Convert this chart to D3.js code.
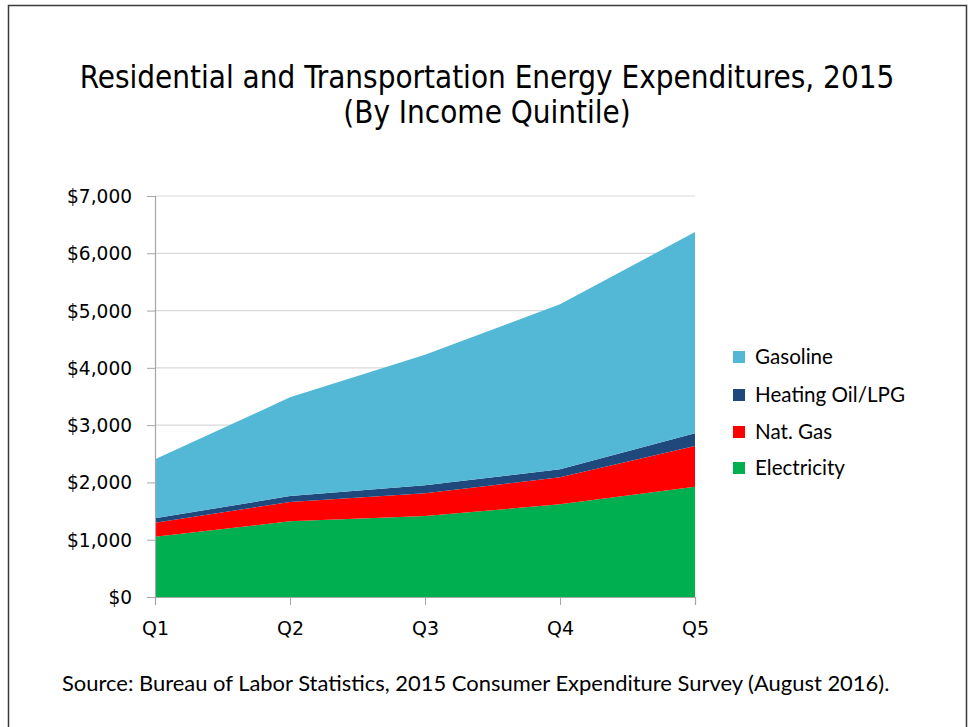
<!DOCTYPE html>
<html><head><meta charset="utf-8">
<script src="https://cdn.jsdelivr.net/npm/d3@7"></script>
<style>body{margin:0;background:#fff}svg{display:block}</style>
</head><body>
<script>
const quintiles = ["Q1","Q2","Q3","Q4","Q5"];
const electricity = [1053, 1321, 1414, 1617, 1926];
const natGas      = [244, 337, 396, 472, 710];
const heatingOil  = [76, 105, 140, 140, 221];
const gasoline    = [1030, 1722, 2279, 2880, 3514];
const seriesNames = ["Electricity","Nat. Gas","Heating Oil/LPG","Gasoline"];
const seriesColors = ["#00B050","#FF0000","#1F497D","#53B8D6"];
const yTicks = [0,1000,2000,3000,4000,5000,6000,7000];
const titleLines = ["Residential and Transportation Energy Expenditures, 2015","(By Income Quintile)"];
const sourceText = "Source: Bureau of Labor Statistics, 2015 Consumer Expenditure Survey (August 2016).";

const W = 969, H = 727;
const svg = d3.select("body").append("svg").attr("width", W).attr("height", H);
svg.append("rect").attr("x",8.5).attr("y",5.5).attr("width",958).attr("height",730)
  .attr("fill","#fff").attr("stroke","#3a3a3a").attr("stroke-width",1.5);

const x = d3.scalePoint().domain(quintiles).range([155, 695]);
const y = d3.scaleLinear().domain([0, 7000]).range([597, 196]);

const table = quintiles.map((q,i)=>({q, "Electricity":electricity[i], "Nat. Gas":natGas[i], "Heating Oil/LPG":heatingOil[i], "Gasoline":gasoline[i]}));
const stack = d3.stack().keys(seriesNames)(table);

// gridlines
svg.append("g").selectAll("line").data(yTicks.slice(1)).join("line")
  .attr("x1",155).attr("x2",695).attr("y1",d=>y(d)).attr("y2",d=>y(d))
  .attr("stroke","#d9d9d9").attr("stroke-width",1.2);

const area = d3.area().x(d=>x(d.data.q)).y0(d=>y(d[0])).y1(d=>y(d[1]));
svg.append("g").selectAll("path").data(stack).join("path")
  .attr("d", area).attr("fill",(d,i)=>seriesColors[i]);

const axisFont = "'DejaVu Sans', sans-serif";
// y axis
const yAxis = svg.append("g").attr("transform","translate(155,0)")
  .call(d3.axisLeft(y).tickValues(yTicks).tickSize(8).tickPadding(15).tickFormat(d=>"$"+d3.format(",")(d)));
yAxis.select(".domain").attr("stroke","#a6a6a6").attr("stroke-width",1.2);
yAxis.selectAll(".tick line").attr("stroke","#a6a6a6");
yAxis.selectAll("text").attr("font-family",axisFont).attr("font-size",18).attr("fill","#000").attr("dy","0.35em");
{
  const top = yAxis.selectAll(".tick text").filter(d=>d===7000).node();
  const w = top.getComputedTextLength();
  yAxis.selectAll("text").attr("font-size", 18*65/w);
}

// x axis
const xAxis = svg.append("g").attr("transform","translate(0,597)")
  .call(d3.axisBottom(x).tickSize(8).tickPadding(0));
xAxis.select(".domain").attr("stroke","#a6a6a6").attr("stroke-width",1.2);
xAxis.selectAll(".tick line").attr("stroke","#a6a6a6");
xAxis.selectAll("text").attr("font-family",axisFont).attr("font-size",18).attr("fill","#000")
  .attr("y",38).attr("dy",null);
{
  const n = xAxis.select(".tick text").node();
  const w = n.getComputedTextLength();
  xAxis.selectAll("text").attr("font-size", 18*27/w);
}

// title
const title = svg.append("g");
titleLines.forEach((t,i)=>{
  title.append("text").attr("x",487).attr("y",88+i*35).attr("text-anchor","middle")
    .attr("font-family","'DejaVu Sans Condensed', 'DejaVu Sans', sans-serif").attr("font-size",27).attr("fill","#000").text(t);
});
const tnode = title.select("text").node();
const tw = tnode.getComputedTextLength();
title.selectAll("text").attr("font-size", 27*815/tw);

// legend
const legOrder = [3,2,1,0];
const legY = [357, 395, 432, 468];
const leg = svg.append("g");
legOrder.forEach((si,k)=>{
  const ly = legY[k];
  leg.append("rect").attr("x",733).attr("y",ly-6).attr("width",12).attr("height",12).attr("fill",seriesColors[si]);
  leg.append("text").attr("x",755).attr("y",ly).attr("dy","0.35em")
    .attr("font-family","Lato, 'Open Sans', sans-serif").attr("font-size",20).attr("fill","#000").text(seriesNames[si]);
});
{
  const n = leg.selectAll("text").filter(function(){return this.textContent==="Heating Oil/LPG";}).node();
  const w = n.getComputedTextLength();
  leg.selectAll("text").attr("font-size", 20*150/w);
}

// source
const src = svg.append("text").attr("x",62).attr("y",691)
  .attr("font-family","Lato, 'Open Sans', sans-serif").attr("font-size",18).attr("fill","#000").text(sourceText);
const sw = src.node().getComputedTextLength();
src.attr("font-size", 18*828/sw);
</script>
</body></html>
